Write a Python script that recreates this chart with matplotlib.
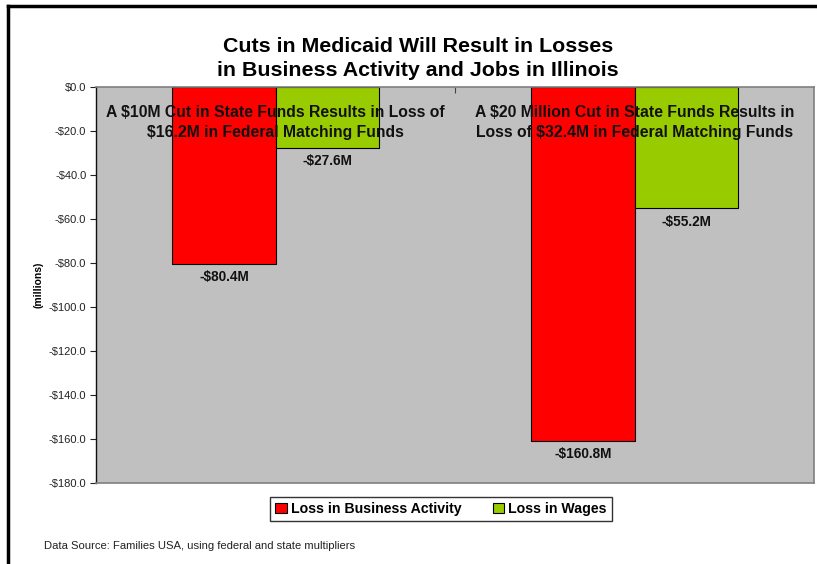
import matplotlib
matplotlib.use("Agg")
import matplotlib.pyplot as plt
from matplotlib.lines import Line2D
from matplotlib.patches import Patch
import numpy as np

plt.rcParams['font.family'] = ['Liberation Sans', 'DejaVu Sans']

# Chart data
scenarios = [
    "A $10M Cut in State Funds Results in Loss of\n$16.2M in Federal Matching Funds",
    "A $20 Million Cut in State Funds Results in\nLoss of $32.4M in Federal Matching Funds",
]
business_loss = [-80.4, -160.8]
wage_loss = [-27.6, -55.2]
series_names = ["Loss in Business Activity", "Loss in Wages"]
y_ticks = [0, -20, -40, -60, -80, -100, -120, -140, -160, -180]

red = "#FF0000"
green = "#99CC00"
plot_bg = "#C0C0C0"

fig = plt.figure(figsize=(8.17, 5.64), dpi=100)
ax = fig.add_axes([96 / 817, 1 - 483 / 564, (814 - 96) / 817, (483 - 87) / 564])
ax.set_facecolor(plot_bg)

x = np.arange(len(scenarios))
w = 0.287
ax.bar(x - w / 2, business_loss, w, color=red, edgecolor="black", linewidth=0.8, zorder=2)
ax.bar(x + w / 2, wage_loss, w, color=green, edgecolor="black", linewidth=0.8, zorder=2)

for xi, v in zip(x - w / 2, business_loss):
    ax.text(xi, v - 2.8, f"-${abs(v):.1f}M", ha="center", va="top",
            fontsize=9.8, fontweight="bold", color="#111111", zorder=3)
for xi, v in zip(x + w / 2, wage_loss):
    ax.text(xi, v - 2.8, f"-${abs(v):.1f}M", ha="center", va="top",
            fontsize=9.8, fontweight="bold", color="#111111", zorder=3)

# Category labels sit along the zero line, over the bars
for xi, lab in zip(x, scenarios):
    ax.text(xi, -8.2, lab, ha="center", va="top", fontsize=11.3,
            fontweight="bold", color="#111111", linespacing=1.4, zorder=4)

ax.set_xlim(-0.5, 1.5)
ax.set_ylim(-180, 0)
ax.set_yticks(y_ticks)
ax.set_yticklabels([("-" if t < 0 else "") + f"${abs(t):.1f}" for t in y_ticks],
                   fontsize=8, color="#222222")
ax.tick_params(axis="y", direction="out", length=4, width=0.8, color="#222222", pad=3)

# Category divider tick on the zero line
ax.set_xticks([0.5])
ax.set_xticklabels([])
ax.tick_params(axis="x", bottom=False, top=True, direction="in", length=4,
               width=0.8, color="#444444")

ax.set_ylabel("(millions)", fontsize=7.5, fontweight="bold", labelpad=4)

ax.spines["left"].set_color("#111111")
ax.spines["left"].set_linewidth(1.0)
for s in ["top", "right", "bottom"]:
    ax.spines[s].set_color("#7F7F7F")
    ax.spines[s].set_linewidth(1.2)

fig.text(418 / 817, 1 - 46 / 564, "Cuts in Medicaid Will Result in Losses",
         ha="center", va="center", fontsize=15.4, fontweight="bold")
fig.text(418 / 817, 1 - 71 / 564, "in Business Activity and Jobs in Illinois",
         ha="center", va="center", fontsize=15.4, fontweight="bold")

handles = [Patch(facecolor=red, edgecolor="black", linewidth=0.8),
           Patch(facecolor=green, edgecolor="black", linewidth=0.8)]
leg = fig.legend(handles, series_names, loc="center", bbox_to_anchor=(441 / 817, 1 - 509 / 564),
                 ncol=2, frameon=True, fancybox=False, edgecolor="black",
                 prop={"weight": "bold", "size": 10.2}, handlelength=0.8, handleheight=0.8,
                 handletextpad=0.3, columnspacing=2.2, borderpad=0.35, borderaxespad=0)
leg.get_frame().set_linewidth(1.0)

fig.text(44 / 817, 1 - 546 / 564, "Data Source: Families USA, using federal and state multipliers",
         ha="left", va="center", fontsize=8.1, color="#222222")

# Outer chart border (left and top edges)
fig.add_artist(Line2D([8 / 817, 8 / 817], [0, 1 - 6 / 564], transform=fig.transFigure,
                      color="black", linewidth=2.5))
fig.add_artist(Line2D([8 / 817, 1], [1 - 6 / 564, 1 - 6 / 564], transform=fig.transFigure,
                      color="black", linewidth=2.5))

fig.savefig("out.png", dpi=100)
